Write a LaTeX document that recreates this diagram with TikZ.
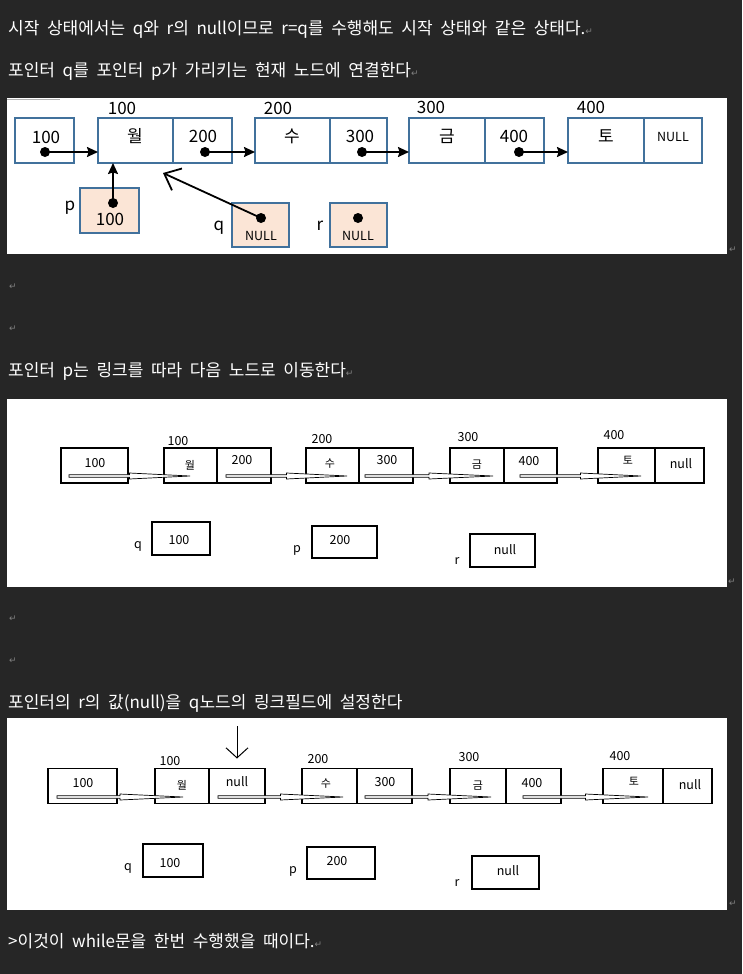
\documentclass[tikz,border=0pt]{standalone}
\usepackage{fontspec}
\setmainfont{Noto Sans CJK KR}[WordSpace=2.0]
\newfontfamily\symfont{DejaVu Sans}
\usepackage{xcolor}
\usetikzlibrary{arrows.meta, positioning, calc}
\definecolor{pagebg}{HTML}{262626}
\definecolor{cellblue}{HTML}{41719C}
\definecolor{peach}{HTML}{FBE5D6}
\newcommand{\retmark}{{\symfont\fontsize{9}{9}\selectfont\textcolor{gray}{↵}}}
\newcommand{\linkarrow}[2]{%
  \coordinate (la) at (#1);
  \coordinate (lb) at (#2);
  \coordinate (lm) at ($(la)!0.5!(lb)$);
  \draw[fill=white, line width=0.7pt] ([yshift=1.3pt]la) -- ([yshift=1.3pt]lm) -- ([yshift=3pt]lm) -- (lb)
    -- ([yshift=-3pt]lm) -- ([yshift=-1.3pt]lm) -- ([yshift=-1.3pt]la) -- cycle;}

\begin{document}
\begin{tikzpicture}[x=1pt, y=-1pt,
    line/.style={anchor=west, text=white, inner sep=0, font=\fontsize{17}{19}\selectfont},
    retnode/.style={inner sep=0},
    cellA/.style={draw=cellblue, line width=1.6pt, fill=white, minimum height=45, inner sep=0, outer sep=0},
    ptrA/.style={cellA, fill=peach},
    cellB/.style={draw=black, line width=1.1pt, fill=white, minimum height=35, inner sep=0, outer sep=0},
    boxB/.style={cellB, minimum height=33},
    valA/.style={inner sep=0, font=\fontsize{17}{17}\selectfont},
    smallA/.style={inner sep=0, font=\fontsize{12.5}{12.5}\selectfont},
    valB/.style={inner sep=0, font=\fontsize{12.5}{12.5}\selectfont},
    hanB/.style={inner sep=0, font=\fontsize{11}{11}\selectfont},
    dotA/.style={circle, fill=black, inner sep=0, minimum size=10},
    ptr/.style={line width=1.8pt, -{Stealth[length=11pt, width=10pt, inset=1.5pt]}},
    bigbarb/.style={line width=1.8pt, -{Straight Barb[length=14pt, width=24pt]}},
    downarrow/.style={line width=1pt, -{Straight Barb[length=10pt, width=22pt]}}]
    \fill[pagebg] (0,0) rectangle (742,974);
    \useasboundingbox (0,0) rectangle (742,974);

    \node[line] (t1) at (8,29) {시작 상태에서는 q와 r의 null이므로 r=q를 수행해도 시작 상태와 같은 상태다.\retmark};
    \node[line] (t2) at (8,71) {포인터 q를 포인터 p가 가리키는 현재 노드에 연결한다\retmark};

    % first panel
    \fill[white] (7,98) rectangle (727,254);
    \draw[gray!60, line width=1pt] (7,99) -- (60,99);
    \node[retnode] (m1) at (733,250) {\retmark};
    \node[cellA, minimum width=59] (ah) at (44.5,140.5) {};
    \node[cellA, minimum width=75] (a1d) at (135.5,140.5) {};
    \node[cellA, minimum width=59, right=0pt of a1d] (a1l) {};
    \node[cellA, minimum width=75] (a2d) at (292.5,140.5) {};
    \node[cellA, minimum width=57, right=0pt of a2d] (a2l) {};
    \node[cellA, minimum width=76] (a3d) at (447,140.5) {};
    \node[cellA, minimum width=59, right=0pt of a3d] (a3l) {};
    \node[cellA, minimum width=76] (a4d) at (606,140.5) {};
    \node[cellA, minimum width=58, right=0pt of a4d] (a4l) {};
    \node[valA] (ahv) at (46,137) {100};
    \node[valA] (a1v) at (135,136) {월};
    \node[valA] (a1n) at (203,136) {200};
    \node[valA] (a2v) at (292,136) {수};
    \node[valA] (a2n) at (360,136) {300};
    \node[valA] (a3v) at (447,136) {금};
    \node[valA] (a3n) at (514,136) {400};
    \node[valA] (a4v) at (606,136) {토};
    \node[smallA] (a4n) at (673,137) {NULL};
    \node[valA] (aa1) at (122,108) {100};
    \node[valA] (aa2) at (278,108) {200};
    \node[valA] (aa3) at (431,107) {300};
    \node[valA] (aa4) at (591,107) {400};
    \node[dotA] (ahd) at (45,152) {};
    \node[dotA] (a1p) at (205,152) {};
    \node[dotA] (a2p) at (362,152) {};
    \node[dotA] (a3p) at (519,152) {};
    \draw[ptr] (ahd.center) -- (a1d.west |- ahd.center);
    \draw[ptr] (a1p.center) -- (a2d.west |- a1p.center);
    \draw[ptr] (a2p.center) -- (a3d.west |- a2p.center);
    \draw[ptr] (a3p.center) -- (a4d.west |- a3p.center);

    \node[ptrA, minimum width=59] (ap) at (109.5,210.5) {};
    \node[ptrA, minimum width=57, minimum height=44] (aq) at (260.5,225) {};
    \node[ptrA, minimum width=57, minimum height=44] (ar) at (358.5,225) {};
    \node[valA] (apv) at (110,219) {100};
    \node[smallA] (aqv) at (261,236) {NULL};
    \node[smallA] (arv) at (358,236) {NULL};
    \node[valA] (apl) at (70,208) {p};
    \node[valA] (aql) at (219,228) {q};
    \node[valA] (arl) at (320,226) {r};
    \node[dotA] (apd) at (113,203) {};
    \node[dotA] (aqd) at (261,218) {};
    \node[dotA] (ard) at (358,218) {};
    \draw[ptr] (apd.center) -- (apd.center |- a1d.south);
    \draw[bigbarb] (aqd.center) -- ([xshift=-10pt, yshift=-10pt]a1d.south east);

    \node[retnode] (m2) at (13,287) {\retmark};
    \node[retnode] (m3) at (13,329) {\retmark};
    \node[line] (t3) at (8,371) {포인터 p는 링크를 따라 다음 노드로 이동한다\retmark};

    % second panel
    \fill[white] (7,399) rectangle (727,587);
    \node[retnode] (m4) at (732,582) {\retmark};
    \node[cellB, minimum width=67] (bh) at (94.5,465.5) {};
    \node[cellB, minimum width=53] (b1d) at (190.5,465.5) {};
    \node[cellB, minimum width=54, right=0pt of b1d] (b1l) {};
    \node[cellB, minimum width=53] (b2d) at (332.5,465.5) {};
    \node[cellB, minimum width=54, right=0pt of b2d] (b2l) {};
    \node[cellB, minimum width=54] (b3d) at (477,465.5) {};
    \node[cellB, minimum width=53, right=0pt of b3d] (b3l) {};
    \node[cellB, minimum width=57] (b4d) at (626.5,465.5) {};
    \node[cellB, minimum width=49, right=0pt of b4d] (b4l) {};
    \node[valB] (bhv) at (95,463) {100};
    \node[hanB] (b1v) at (190,465) {월};
    \node[valB] (b1n) at (242,460) {200};
    \node[hanB] (b2v) at (330,464) {수};
    \node[valB] (b2n) at (387,460) {300};
    \node[hanB] (b3v) at (477,465) {금};
    \node[valB] (b3n) at (529,461) {400};
    \node[hanB] (b4v) at (628,460) {토};
    \node[valB] (b4n) at (681,464) {null};
    \node[valB] (ba1) at (178,441) {100};
    \node[valB] (ba2) at (322,439) {200};
    \node[valB] (ba3) at (468,437) {300};
    \node[valB] (ba4) at (614,435) {400};
    \linkarrow{[xshift=8pt, yshift=-10.5pt]bh.west}{[xshift=26pt, yshift=-10.5pt]b1d.west}
    \linkarrow{[xshift=9pt, yshift=-10.5pt]b1l.west}{[xshift=41pt, yshift=-10.5pt]b2d.west}
    \linkarrow{[xshift=6pt, yshift=-10.5pt]b2l.west}{[xshift=43pt, yshift=-10.5pt]b3d.west}
    \linkarrow{[xshift=16pt, yshift=-10.5pt]b3l.west}{[xshift=43pt, yshift=-10.5pt]b4d.west}
    \node[boxB, minimum width=58] (bq) at (181,538.5) {};
    \node[boxB, minimum width=65, minimum height=32] (bp) at (344.5,542) {};
    \node[boxB, minimum width=65] (br) at (502.5,550.5) {};
    \node[valB] (bqv) at (179,540) {100};
    \node[valB] (bpv) at (340,540) {200};
    \node[valB] (brv) at (505,550) {null};
    \node[valB] (bql) at (138,546) {q};
    \node[valB] (bpl) at (297,550) {p};
    \node[valB] (brl) at (457,561) {r};

    \node[retnode] (m5) at (13,619) {\retmark};
    \node[retnode] (m6) at (13,661) {\retmark};
    \node[line] (t4) at (8,703) {포인터의 r의 값(null)을 q노드의 링크필드에 설정한다};

    % third panel
    \fill[white] (7,718) rectangle (727,910);
    \node[retnode] (m7) at (733,904) {\retmark};
    \node[cellB, minimum width=69] (ch) at (82.5,786) {};
    \node[cellB, minimum width=54] (c1d) at (182,786) {};
    \node[cellB, minimum width=56, right=0pt of c1d] (c1l) {};
    \node[cellB, minimum width=55] (c2d) at (329.5,786) {};
    \node[cellB, minimum width=55, right=0pt of c2d] (c2l) {};
    \node[cellB, minimum width=56] (c3d) at (478,786) {};
    \node[cellB, minimum width=55, right=0pt of c3d] (c3l) {};
    \node[cellB, minimum width=60] (c4d) at (633,786) {};
    \node[cellB, minimum width=49, right=0pt of c4d] (c4l) {};
    \node[valB] (chv) at (83,783) {100};
    \node[hanB] (c1v) at (182,785) {월};
    \node[valB] (c1n) at (237,782) {null};
    \node[hanB] (c2v) at (326,784) {수};
    \node[valB] (c2n) at (385,782) {300};
    \node[hanB] (c3v) at (478,786) {금};
    \node[valB] (c3n) at (532,783) {400};
    \node[hanB] (c4v) at (634,781) {토};
    \node[valB] (c4n) at (690,785) {null};
    \node[valB] (ca1) at (170,761) {100};
    \node[valB] (ca2) at (318,759) {200};
    \node[valB] (ca3) at (469,757) {300};
    \node[valB] (ca4) at (620,756) {400};
    \linkarrow{[xshift=9pt, yshift=-11pt]ch.west}{[xshift=28pt, yshift=-11pt]c1d.west}
    \linkarrow{[xshift=9pt, yshift=-11pt]c1l.west}{[xshift=41pt, yshift=-11pt]c2d.west}
    \linkarrow{[xshift=8pt, yshift=-11pt]c2l.west}{[xshift=41pt, yshift=-11pt]c3d.west}
    \linkarrow{[xshift=17pt, yshift=-11pt]c3l.west}{[xshift=45pt, yshift=-11pt]c4d.west}
    \coordinate (cdown) at (237,726);
    \draw[downarrow] (cdown) -- ([yshift=10pt]c1l.north);
    \node[boxB, minimum width=60] (cq) at (173,860.5) {};
    \node[boxB, minimum width=68, minimum height=32] (cp) at (341,863) {};
    \node[boxB, minimum width=67] (cr) at (505.5,872.5) {};
    \node[valB] (cqv) at (170,863) {100};
    \node[valB] (cpv) at (337,861) {200};
    \node[valB] (crv) at (508,871) {null};
    \node[valB] (cql) at (128,868) {q};
    \node[valB] (cpl) at (293,871) {p};
    \node[valB] (crl) at (457,883) {r};

    \node[line] (t5) at (8,941) {>이것이 while문을 한번 수행했을 때이다.\retmark};
\end{tikzpicture}
\end{document}
